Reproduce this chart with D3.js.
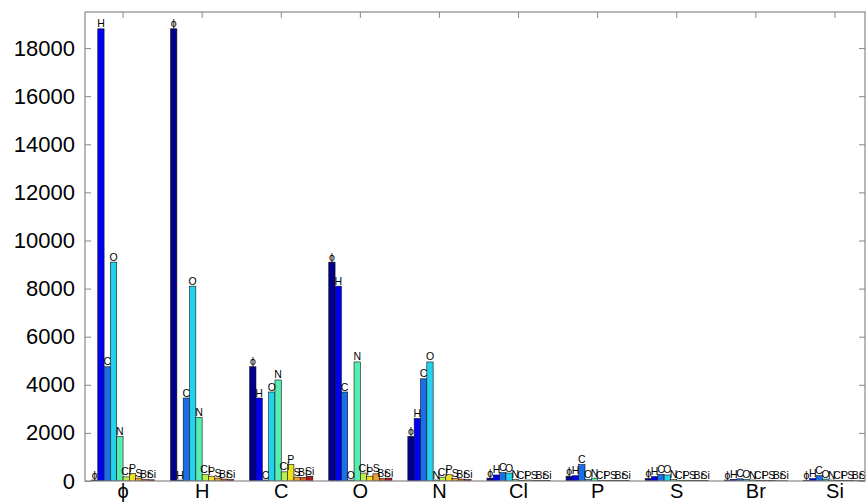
<!DOCTYPE html>
<html>
<head>
<meta charset="utf-8">
<script src="https://cdn.jsdelivr.net/npm/d3@7"></script>
<style>
  html, body { margin: 0; padding: 0; background: #fff; }
  svg { display: block; font-family: "Liberation Sans", Arial, sans-serif; }
</style>
</head>
<body>
<svg id="chart" width="867" height="503"></svg>
<script>
// Categories (groups on x axis) and series (bars within each group)
const groups = ["ϕ", "H", "C", "O", "N", "Cl", "P", "S", "Br", "Si"];
const series = ["ϕ", "H", "C", "O", "N", "Cl", "P", "S", "Br", "Si"];
const seriesColors = ["#00008c", "#0000f0", "#1a6ee8", "#22d2ee", "#55eeb0",
                      "#b8f050", "#f2e020", "#f0a030", "#e06020", "#a81818"];

// Values per group, in series order (ϕ, H, C, O, N, Cl, P, S, Br, Si)
const valPhi = [40, 18800, 4750, 9100, 1850, 170, 320, 120, 60, 50];
const valH   = [18800, 40, 3450, 8100, 2650, 260, 200, 120, 80, 60];
const valC   = [4750, 3450, 40, 3700, 4200, 380, 680, 160, 150, 200];
const valO   = [9100, 8100, 3700, 40, 4950, 330, 200, 300, 100, 120];
const valN   = [1850, 2600, 4250, 4950, 40, 160, 260, 100, 80, 60];
const valCl  = [120, 250, 350, 330, 60, 20, 40, 30, 20, 20];
const valP   = [200, 220, 680, 60, 120, 30, 20, 30, 20, 15];
const valS   = [100, 180, 280, 250, 60, 30, 30, 20, 20, 15];
const valBr  = [40, 70, 90, 60, 40, 20, 20, 20, 10, 10];
const valSi  = [30, 100, 220, 80, 40, 20, 20, 20, 10, 10];
const yTicks = [0, 2000, 4000, 6000, 8000, 10000, 12000, 14000, 16000, 18000];

const rows = [valPhi, valH, valC, valO, valN, valCl, valP, valS, valBr, valSi];
const data = groups.map((g, gi) => ({
  group: g,
  bars: series.map((s, si) => ({ s, si, v: rows[gi][si] }))
}));

const svg = d3.select("#chart");
const box = { left: 85, right: 865, top: 12, bottom: 481 };

const x = d3.scaleBand().domain(groups).range([83.5, 874.5]).paddingInner(0).paddingOuter(0);
const xs = d3.scaleBand().domain(series).range([-31.6, 31.6]).padding(0);
const y = d3.scaleLinear().domain([0, 19500]).range([box.bottom, box.top]);

svg.append("defs").append("clipPath").attr("id", "clip")
  .append("rect").attr("x", box.left).attr("y", box.top)
  .attr("width", box.right - box.left).attr("height", box.bottom - box.top);

const plot = svg.append("g").attr("clip-path", "url(#clip)");

const gG = plot.selectAll("g.grp").data(data).join("g")
  .attr("class", "grp")
  .attr("transform", d => `translate(${x(d.group) + x.bandwidth() / 2},0)`);

gG.selectAll("rect").data(d => d.bars).join("rect")
  .attr("x", d => xs(d.s))
  .attr("width", xs.bandwidth())
  .attr("y", d => y(d.v))
  .attr("height", d => y(0) - y(d.v))
  .attr("fill", d => seriesColors[d.si])
  .attr("stroke", "#111")
  .attr("stroke-width", 0.6);

gG.selectAll("text").data(d => d.bars).join("text")
  .attr("x", d => xs(d.s) + xs.bandwidth() / 2)
  .attr("y", d => y(d.v) - 1.5)
  .attr("text-anchor", "middle")
  .attr("font-size", 10.5)
  .attr("fill", "#000")
  .text(d => d.s);

// Axes box
const axisColor = "#888";
const yAxisL = d3.axisLeft(y).tickValues(yTicks).tickFormat(d3.format("d"))
  .tickSizeInner(-6).tickSizeOuter(0).tickPadding(10);
const gy = svg.append("g").attr("transform", `translate(${box.left},0)`).call(yAxisL);
gy.select(".domain").remove();
gy.selectAll(".tick line").attr("stroke", axisColor);
gy.selectAll(".tick text").attr("font-size", 22).attr("fill", "#000")
  .attr("font-family", "'Liberation Sans', Arial, sans-serif");

const yAxisR = d3.axisRight(y).tickValues(yTicks).tickSizeInner(-6).tickSizeOuter(0).tickFormat("");
const gyr = svg.append("g").attr("transform", `translate(${box.right},0)`).call(yAxisR);
gyr.select(".domain").remove();
gyr.selectAll(".tick line").attr("stroke", axisColor);

const xAxisB = d3.axisBottom(x).tickSizeInner(0).tickSizeOuter(0);
const gx = svg.append("g").attr("transform", `translate(0,${box.bottom})`).call(xAxisB);
gx.select(".domain").remove();
gx.selectAll(".tick line").remove();
gx.selectAll(".tick text").attr("font-size", 20).attr("fill", "#000")
  .attr("y", 17).attr("dy", 0)
  .attr("font-family", "'Liberation Sans', Arial, sans-serif");

const xAxisT = d3.axisTop(x).tickSizeInner(-6).tickSizeOuter(0).tickFormat("");
const gxt = svg.append("g").attr("transform", `translate(0,${box.top})`).call(xAxisT);
gxt.select(".domain").remove();
gxt.selectAll(".tick line").attr("stroke", axisColor);

svg.append("rect")
  .attr("x", box.left).attr("y", box.top)
  .attr("width", box.right - box.left).attr("height", box.bottom - box.top)
  .attr("fill", "none").attr("stroke", axisColor).attr("stroke-width", 1.2);
</script>
</body>
</html>
